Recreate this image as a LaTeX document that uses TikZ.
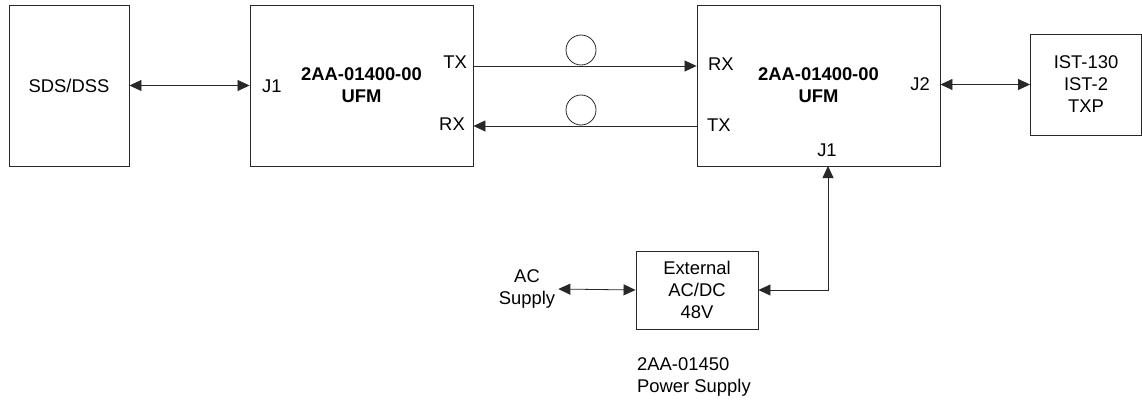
\documentclass[tikz,border=0pt]{standalone}
\usepackage{fontspec}
\setmainfont{Liberation Sans}
\usepackage{tikz}
\usetikzlibrary{arrows.meta,positioning,shapes}
\definecolor{LineGray}{RGB}{40,40,40}

\begin{document}
\fontsize{18.4}{22}\selectfont
\begin{tikzpicture}[
  x=1pt,y=-1pt,
  box/.style={rectangle,draw=LineGray,line width=0.9pt,align=center,inner sep=0pt},
  ufm/.style={box,minimum width=223pt,minimum height=161pt,font=\bfseries,align=center},
  port/.style={inner sep=0pt},
  coil/.style={circle,draw=LineGray,line width=0.8pt,minimum size=30pt,inner sep=0pt},
  arr/.style={-{Triangle[length=12pt,width=11pt]},line width=0.8pt,draw=LineGray},
  dbl/.style={{Triangle[length=12pt,width=11pt]}-{Triangle[length=12pt,width=11pt]},line width=0.8pt,draw=LineGray}
]
\useasboundingbox (0,0) rectangle (1142,404);
% main blocks
\node[box,minimum width=120pt,minimum height=161pt] (sds) at (69,85.5) {SDS/DSS};
\node[ufm] (ufma) at (361.5,85.5) {2AA-01400-00\\UFM};
\node[ufm,minimum width=243pt] (ufmb) at (818.5,85.5) {2AA-01400-00\\UFM};
\node[box,minimum width=111pt,minimum height=101pt] (ist) at (1086,84.5) {IST-130\\IST-2\\TXP};
\node[box,minimum width=122pt,minimum height=78pt] (psu) at (697,290) {External\\AC/DC\\48V};
% port labels
\node[port,anchor=west] (ja) at (262,86) {J1};
\node[port,anchor=east] (txa) at (467,62) {TX};
\node[port,anchor=east] (rxa) at (465,124) {RX};
\node[port,anchor=west] (rxb) at (708,64) {RX};
\node[port,anchor=west] (txb) at (707,125) {TX};
\node[port] (jb) at (827,150) {J1};
\node[port,anchor=east] (jc) at (930,84) {J2};
% fibre loops
\node[coil] (loopa) at (581,50) {};
\node[coil] (loopb) at (581,110) {};
% supply labels
\node[align=center,inner sep=3pt] (ac) at (527,289) {AC\\Supply};
\node[align=left,anchor=north west,inner sep=0pt] (psname) at (637,357) {2AA-01450\\Power Supply};
\coordinate (jbpin) at (828,166);
% connectors
\draw[dbl] (sds.east) -- (ufma.west);
\draw[arr] (ufma.east |- 0,66) -- (ufmb.west |- 0,66);
\draw[arr] (ufmb.west |- 0,126) -- (ufma.east |- 0,126);
\draw[dbl] (ist.west -| ufmb.east) -- (ist.west);
\draw[dbl] (jbpin) |- (psu.east);
\draw[dbl] (ac.east) -- (psu.west);
\end{tikzpicture}
\end{document}
